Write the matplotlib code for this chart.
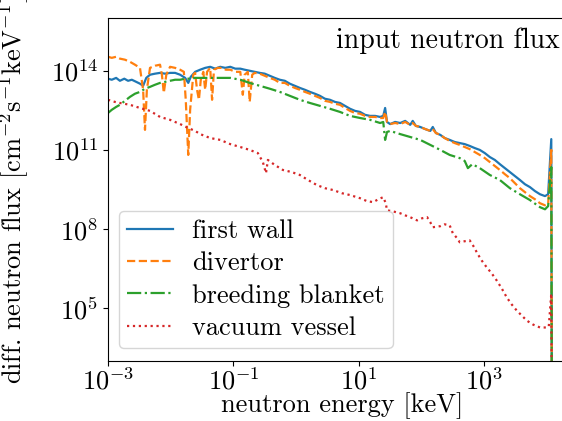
import matplotlib
matplotlib.use("Agg")
import matplotlib.pyplot as plt
from matplotlib.ticker import NullLocator, FixedLocator
import numpy as np

plt.rcParams['font.family'] = 'serif'
plt.rcParams['font.serif'] = ['cmr10', 'DejaVu Serif']
plt.rcParams['mathtext.fontset'] = 'cm'
plt.rcParams['axes.formatter.use_mathtext'] = True
plt.rcParams['font.size'] = 19

# ---- data (log10 of energy in keV, log10 of flux) ----
fw_log_e = [-3.00,-2.94,-2.87,-2.81,-2.74,-2.68,-2.62,-2.55,-2.49,-2.44,
            -2.39,-2.33,-2.25,-2.17,-2.09,-2.01,-1.93,-1.85,-1.77,-1.72,
            -1.68,-1.61,-1.53,-1.45,-1.37,-1.29,-1.21,-1.13,-1.05,-0.97,
            -0.89,-0.82,-0.74,-0.66,-0.58,-0.50,-0.42,-0.34,-0.26,-0.18,
            -0.10,-0.02,0.06,0.14,0.22,0.30,0.38,0.46,0.54,0.62,
            0.70,0.78,0.86,0.94,1.02,1.10,1.18,1.26,1.34,1.39,
            1.42,1.45,1.50,1.58,1.66,1.74,1.82,1.86,1.91,1.98,
            2.06,2.14,2.18,2.23,2.30,2.37,2.45,2.53,2.61,2.69,
            2.77,2.85,2.93,3.01,3.09,3.17,3.25,3.33,3.41,3.49,
            3.57,3.65,3.73,3.81,3.89,3.97,4.02,4.07,4.08]
fw_log_flux = [13.70,13.66,13.73,13.62,13.70,13.62,13.66,13.58,13.51,13.43,
               13.73,13.85,13.89,13.92,13.89,13.92,13.92,13.85,13.73,13.54,
               13.77,13.96,14.04,14.11,14.15,14.08,14.15,14.11,14.15,14.08,
               14.08,14.04,14.00,13.96,13.92,13.89,13.81,13.73,13.66,13.62,
               13.51,13.43,13.35,13.28,13.20,13.13,13.05,12.94,12.90,12.82,
               12.78,12.67,12.56,12.48,12.44,12.33,12.29,12.29,12.25,12.29,
               12.59,12.06,11.98,12.06,12.02,12.10,11.95,12.10,11.91,11.87,
               11.79,11.72,11.87,11.64,11.57,11.45,11.38,11.30,11.26,11.22,
               11.15,11.07,11.00,10.88,10.73,10.62,10.46,10.31,10.16,10.01,
               9.86,9.70,9.59,9.44,9.32,9.25,9.32,11.41,0.0]

dv_log_e = [-3.00,-2.94,-2.87,-2.81,-2.73,-2.65,-2.57,-2.49,-2.44,-2.41,
            -2.38,-2.33,-2.25,-2.17,-2.14,-2.11,-2.07,-2.01,-1.93,-1.85,
            -1.79,-1.76,-1.72,-1.69,-1.64,-1.61,-1.58,-1.55,-1.52,-1.48,
            -1.45,-1.42,-1.37,-1.34,-1.31,-1.25,-1.18,-1.12,-1.05,-0.97,
            -0.89,-0.85,-0.82,-0.77,-0.74,-0.70,-0.66,-0.58,-0.50,-0.42,
            -0.34,-0.26,-0.18,-0.10,-0.02,0.06,0.14,0.22,0.30,0.38,
            0.46,0.54,0.62,0.70,0.78,0.86,0.94,1.02,1.10,1.18,
            1.26,1.34,1.39,1.42,1.45,1.50,1.58,1.66,1.74,1.82,
            1.86,1.91,1.98,2.06,2.14,2.18,2.23,2.30,2.37,2.45,
            2.53,2.61,2.69,2.77,2.85,2.93,3.01,3.09,3.17,3.25,
            3.33,3.41,3.49,3.57,3.65,3.73,3.81,3.89,3.97,4.02,
            4.07,4.08]
dv_log_flux = [14.53,14.49,14.53,14.46,14.42,14.34,14.23,14.11,13.28,11.76,
               13.28,14.11,14.19,14.23,13.85,13.16,13.85,14.15,14.11,14.04,
               13.96,12.90,10.81,12.52,13.85,13.92,13.28,12.90,13.66,13.96,
               13.28,13.96,14.11,12.90,14.04,14.11,14.11,14.04,14.04,13.96,
               13.96,13.09,13.85,13.96,12.82,13.85,13.92,13.89,13.81,13.73,
               13.66,13.54,13.54,13.43,13.35,13.28,13.20,13.13,13.05,12.97,
               12.86,12.82,12.75,12.71,12.59,12.48,12.40,12.37,12.29,12.25,
               12.25,12.21,12.21,12.44,12.06,11.98,12.02,11.98,12.06,11.95,
               12.02,11.91,11.87,11.79,11.72,11.79,11.64,11.57,11.45,11.34,
               11.26,11.19,11.11,11.03,10.92,10.81,10.69,10.54,10.39,10.24,
               10.08,9.93,9.74,9.55,9.40,9.25,9.13,8.98,8.90,8.94,
               11.00,0.0]

bb_log_e = [-3.00,-2.94,-2.87,-2.81,-2.73,-2.65,-2.57,-2.49,-2.41,-2.33,
            -2.25,-2.17,-2.09,-2.01,-1.93,-1.85,-1.77,-1.69,-1.61,-1.53,
            -1.37,-1.21,-1.05,-0.89,-0.74,-0.58,-0.42,-0.26,-0.10,0.06,
            0.22,0.38,0.54,0.70,0.86,1.02,1.18,1.34,1.39,1.42,
            1.45,1.50,1.66,1.82,1.98,2.14,2.30,2.45,2.61,2.69,
            2.74,2.81,2.93,3.09,3.25,3.41,3.57,3.73,3.89,3.97,
            4.02,4.07,4.08]
bb_log_flux = [12.40,12.52,12.63,12.71,12.86,13.01,13.13,13.20,13.32,13.39,
               13.47,13.54,13.58,13.62,13.66,13.66,13.70,13.70,13.73,13.73,
               13.73,13.73,13.73,13.66,13.54,13.43,13.32,13.20,13.05,12.90,
               12.78,12.67,12.56,12.44,12.29,12.21,12.14,12.02,12.06,11.38,
               11.68,11.72,11.60,11.49,11.38,11.19,11.00,10.81,10.69,10.58,
               10.31,10.46,10.31,10.05,9.86,9.55,9.32,9.10,8.83,8.75,
               8.87,10.35,0.0]

vv_log_e = [-3.00,-2.89,-2.81,-2.65,-2.49,-2.33,-2.17,-2.01,-1.85,-1.72,
            -1.61,-1.53,-1.37,-1.21,-1.05,-0.89,-0.74,-0.61,-0.53,-0.48,
            -0.45,-0.34,-0.21,-0.07,0.06,0.19,0.33,0.46,0.59,0.73,
            0.86,1.02,1.13,1.23,1.31,1.39,1.43,1.45,1.53,1.66,
            1.74,1.82,1.93,2.01,2.09,2.14,2.18,2.30,2.37,2.45,
            2.50,2.57,2.61,2.69,2.77,2.84,2.89,2.96,3.04,3.12,
            3.20,3.28,3.36,3.44,3.52,3.60,3.68,3.78,3.89,4.00,
            4.03,4.07,4.08]
vv_log_flux = [12.90,12.82,12.78,12.71,12.59,12.48,12.25,12.14,11.98,11.83,
               11.72,11.60,11.45,11.38,11.22,11.11,11.00,10.88,10.54,10.12,
               10.62,10.43,10.24,10.16,10.05,9.86,9.67,9.55,9.48,9.36,
               9.29,9.17,9.06,9.02,9.13,9.21,8.98,8.71,8.68,8.60,
               8.52,8.45,8.33,8.41,8.45,8.26,8.07,8.11,8.18,8.14,
               7.84,7.65,7.50,7.54,7.57,7.31,7.08,6.81,6.55,6.32,
               6.05,5.75,5.41,5.14,4.91,4.72,4.53,4.38,4.27,4.27,
               4.30,5.56,0.0]

labels = ['first wall', 'divertor', 'breeding blanket', 'vacuum vessel']
colors = ['#1f77b4', '#ff7f0e', '#2ca02c', '#d62728']
styles = ['-', '--', '-.', ':']
series = [(fw_log_e, fw_log_flux), (dv_log_e, dv_log_flux),
          (bb_log_e, bb_log_flux), (vv_log_e, vv_log_flux)]

W, H = 562, 421
fig = plt.figure(figsize=(W / 100, H / 100), dpi=100)
ax = fig.add_axes([108 / W, (H - 361) / H, 457.7 / W, 343 / H])

for (le, lf), lab, c, ls in zip(series, labels, colors, styles):
    ax.plot(10 ** np.array(le), 10 ** np.array(lf), color=c, linestyle=ls,
            linewidth=1.6, label=lab)

ax.set_xscale('log')
ax.set_yscale('log')
ax.set_xlim(1e-3, 10 ** 4.3)
ax.set_ylim(1e3, 1e16)
ax.xaxis.set_major_locator(FixedLocator([1e-3, 1e-1, 1e1, 1e3]))
ax.yaxis.set_major_locator(FixedLocator([1e5, 1e8, 1e11, 1e14]))
ax.xaxis.set_minor_locator(NullLocator())
ax.yaxis.set_minor_locator(NullLocator())
ax.spines['right'].set_visible(False)
ax.tick_params(labelsize=19)
ax.tick_params(axis='x', pad=1)

ax.set_xlabel('neutron energy [keV]')
ax.xaxis.set_label_coords(342 / W, 1 - 392 / H, transform=fig.transFigure)
ax.set_ylabel(r'diff. neutron flux [cm$^{-2}$s$^{-1}$keV$^{-1}$]')
ax.yaxis.set_label_coords(31 / W, 1 - 190 / H, transform=fig.transFigure)

fig.text(560 / W, 1 - 41 / H, 'input neutron flux', ha='right', va='center',
         fontsize=20)

ax.legend(loc='lower left', bbox_to_anchor=(119 / W, (H - 348) / H),
          bbox_transform=fig.transFigure, borderaxespad=0, borderpad=0.3,
          handlelength=1.75, handletextpad=0.72, labelspacing=0.33)

fig.savefig('out.png', dpi=100)
